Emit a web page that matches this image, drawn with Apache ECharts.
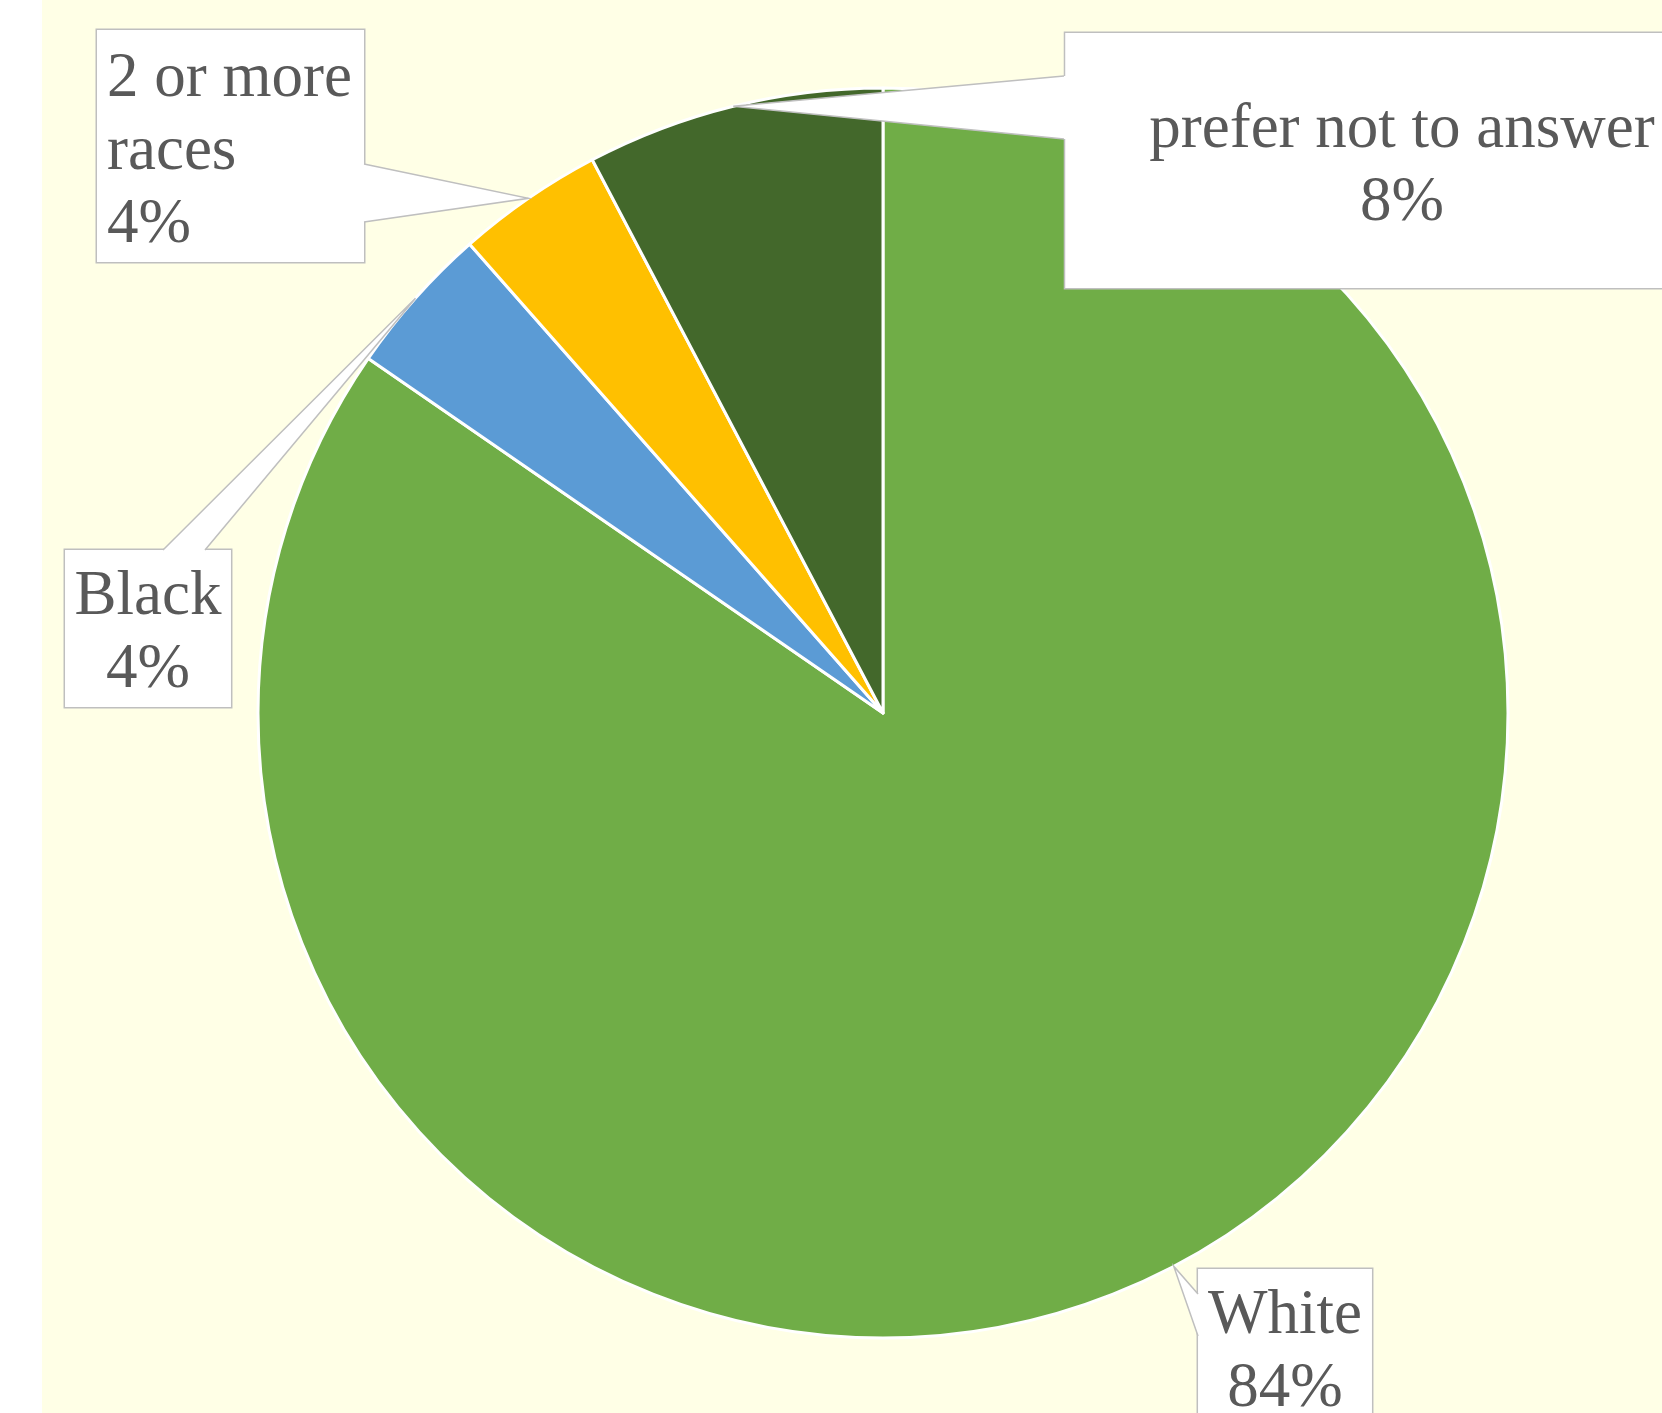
<!DOCTYPE html>
<html><head><meta charset="utf-8">
<script src="https://cdn.jsdelivr.net/npm/echarts@6/dist/echarts.min.js"></script>
<style>html,body{margin:0;padding:0;background:#fff}#c{width:1662px;height:1413px}</style>
</head><body><div id="c"></div>
<script>
const categories = ['White', 'Black', '2 or more races', 'prefer not to answer'];
const labelNames = ['White', 'Black', '2 or more\nraces', 'prefer not to answer'];
const sliceValues = [84.6, 3.9, 3.8, 7.7];
const labelPercents = ['84%', '4%', '4%', '8%'];
const colors = ['#70AD47', '#5B9BD5', '#FFC000', '#43682B'];

// layout constants (pixels)
const CX = 883, CY = 713, R = 625;
const labelBoxes = [
  {x: 1285, y: 1269, align: 'center', padding: [11, 10, 0, 10], base: [[1198, 1294], [1198, 1336]], inset: [2, 0]},
  {x: 148, y: 550, align: 'center', padding: [11, 9.5, 0, 9.5], base: [[163, 550], [205, 550]], inset: [0, 2]},
  {x: 97, y: 30, align: 'left', padding: [13, 10, 0, 10], width: 247, base: [[364, 164], [364, 222]], inset: [-2, 0]},
  {x: 1402, y: 33, align: 'center', padding: [61, 84, 48, 84], base: [[1064, 76], [1064, 139]], inset: [2, 0]}
];

const total = sliceValues.reduce((a, b) => a + b, 0);
let cum = 0;
const tips = sliceValues.map(v => {
  const a = (cum + v / 2) / total * 2 * Math.PI;
  cum += v;
  return [CX + R * Math.sin(a), CY - R * Math.cos(a)];
});

const graphics = [
  {type: 'rect', z: -10, silent: true, shape: {x: 42, y: 0, width: 1662 - 42, height: 1413}, style: {fill: '#FFFFE6'}}
];
labelBoxes.forEach((b, i) => {
  const t = tips[i], b0 = b.base[0], b1 = b.base[1];
  graphics.push({type: 'polygon', z: 10, silent: true,
    shape: {points: [[b0[0] + b.inset[0], b0[1] + b.inset[1]], b0, t, b1, [b1[0] + b.inset[0], b1[1] + b.inset[1]]]},
    style: {fill: '#FFFFFF'}});
  graphics.push({type: 'polyline', z: 11, silent: true,
    shape: {points: [b0, t, b1]},
    style: {stroke: '#BFBFBF', lineWidth: 1.5, fill: null}});
});

const chart = echarts.init(document.getElementById('c'), null, {renderer: 'canvas'});
chart.setOption({
  animation: false,
  backgroundColor: '#FFFFFF',
  graphic: graphics,
  series: [{
    type: 'pie',
    center: [CX, CY],
    radius: R,
    startAngle: 90,
    clockwise: true,
    avoidLabelOverlap: false,
    emphasis: {disabled: true},
    itemStyle: {borderColor: '#FFFFFF', borderWidth: 3},
    label: {
      show: true,
      position: 'inside',
      formatter: p => labelNames[p.dataIndex] + '\n' + labelPercents[p.dataIndex],
      fontFamily: "'Liberation Serif', 'Times New Roman', serif",
      fontSize: 63,
      lineHeight: 73,
      color: '#595959',
      backgroundColor: '#FFFFFF',
      borderColor: '#BFBFBF',
      borderWidth: 1.5
    },
    labelLine: {show: false},
    labelLayout: function (params) {
      const b = labelBoxes[params.dataIndex];
      return {x: b.x, y: b.y, align: b.align, verticalAlign: 'top'};
    },
    data: categories.map((n, i) => {
      const b = labelBoxes[i];
      const lab = {padding: b.padding};
      if (b.width) { lab.width = b.width; }
      return {name: n, value: sliceValues[i], itemStyle: {color: colors[i]}, label: lab};
    })
  }]
});
</script>
</body></html>
